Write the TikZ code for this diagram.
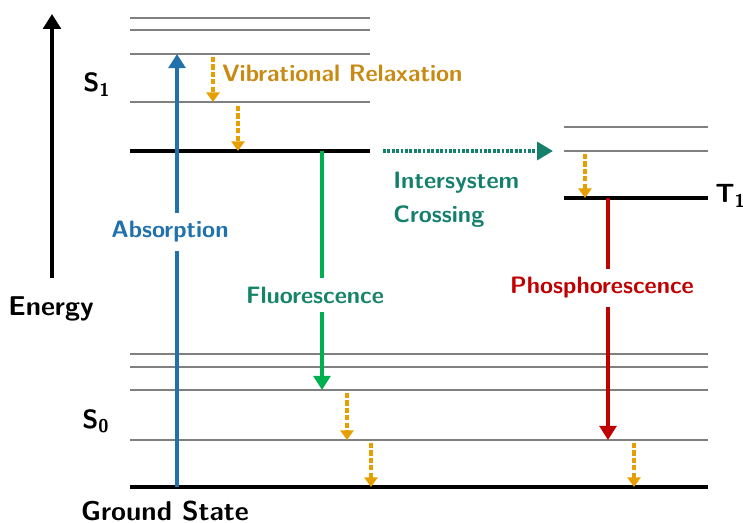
\documentclass[tikz,border=0pt]{standalone}
\usepackage{fontspec}
\usepackage{tikz}
\usetikzlibrary{arrows.meta}

\definecolor{absblue}{RGB}{33,113,172}
\definecolor{vibtext}{RGB}{200,138,18}
\definecolor{vibarrow}{RGB}{230,159,0}
\definecolor{flgreen}{RGB}{0,176,80}
\definecolor{fltext}{RGB}{22,132,104}
\definecolor{iscteal}{RGB}{20,128,108}
\definecolor{phred}{RGB}{192,0,0}

\begin{document}
\begin{tikzpicture}[x=0.02cm,y=-0.02cm,
  font=\sffamily\bfseries\fontsize{13.5}{19}\selectfont,
  sublevel/.style={gray,line width=1.1pt},
  mainlevel/.style={black,line width=2.8pt},
  transition/.style={line width=2.3pt,-{Triangle[length=8pt,width=9.5pt]}},
  relax/.style={vibarrow,line width=1.8pt,dash pattern=on 3pt off 1.2pt,-{Triangle[length=5.5pt,width=7.5pt]}},
  tag/.style={inner sep=0pt,anchor=base west,font=\sffamily\bfseries\fontsize{15}{18}\selectfont},
  axistext/.style={anchor=base,inner sep=0pt,font=\sffamily\bfseries\fontsize{15.5}{18}\selectfont},
  procname/.style={fill=white,inner xsep=1pt,inner ysep=5pt,anchor=base}]
\useasboundingbox (0,0) rectangle (743,523);
\begin{scope}
\draw[sublevel] (130,18) -- (370,18);
\draw[sublevel] (130,30) -- (370,30);
\draw[sublevel] (130,54) -- (370,54);
\draw[sublevel] (130,102) -- (370,102);
\draw[mainlevel] (130,151) -- (370,151);
\node[tag] (sone) at (83,92) {S\textsubscript{1}};
\end{scope}
\begin{scope}
\draw[sublevel] (564,127) -- (708,127);
\draw[sublevel] (564,151) -- (708,151);
\draw[mainlevel] (564,198) -- (708,198);
\node[tag] (tone) at (715,203) {T\textsubscript{1}};
\end{scope}
\begin{scope}
\draw[sublevel] (130,354) -- (708,354);
\draw[sublevel] (130,367) -- (708,367);
\draw[sublevel] (130,390) -- (708,390);
\draw[sublevel] (130,440) -- (708,440);
\draw[mainlevel] (130,487) -- (708,487);
\node[tag] (szero) at (82,428) {S\textsubscript{0}};
\node[axistext] (ground) at (165,520) {Ground State};
\end{scope}
\coordinate (ebot) at (52,278);
\coordinate (etop) at (52,14);
\draw[line width=2.3pt,-{Triangle[length=8.5pt,width=10pt]}] (ebot) -- (etop);
\node[axistext] (energy) at (51,316) {Energy};
\coordinate (abs0) at (177,487);
\coordinate (abs1) at (177,54);
\draw[transition,absblue] (abs0) -- (abs1);
\node[procname,text=absblue] (absorption) at (170,238) {Absorption};
\coordinate (fl0) at (322,151);
\coordinate (fl1) at (322,390);
\draw[transition,flgreen] (fl0) -- (fl1);
\node[procname,text=fltext] (fluor) at (315,303) {Fluorescence};
\coordinate (ph0) at (608,198);
\coordinate (ph1) at (608,440);
\draw[transition,phred] (ph0) -- (ph1);
\node[procname,text=phred] (phos) at (602,294) {Phosphorescence};
\coordinate (isc0) at (383,151);
\coordinate (isc1) at (553,151);
\draw[iscteal,line width=2.3pt,dash pattern=on 1.6pt off 0.9pt,-{Triangle[length=9pt,width=10pt]}] (isc0) -- (isc1);
\node[anchor=north west,inner sep=0pt,align=left,text=iscteal] (isc) at (393,172) {Intersystem\\Crossing};
\coordinate (va0) at (213,57);
\coordinate (va1) at (213,102);
\coordinate (vb0) at (238,106);
\coordinate (vb1) at (238,151);
\coordinate (vc0) at (585,154);
\coordinate (vc1) at (585,198);
\coordinate (vd0) at (347,393);
\coordinate (vd1) at (347,440);
\coordinate (ve0) at (371,443);
\coordinate (ve1) at (371,487);
\coordinate (vf0) at (634,443);
\coordinate (vf1) at (634,487);
\foreach \v in {va,vb,vc,vd,ve,vf}
  \draw[relax] (\v0) -- (\v1);
\node[tag,font=\sffamily\bfseries\fontsize{13.5}{18}\selectfont,text=vibtext] (vibrelax) at (222,82) {Vibrational Relaxation};
\end{tikzpicture}
\end{document}
